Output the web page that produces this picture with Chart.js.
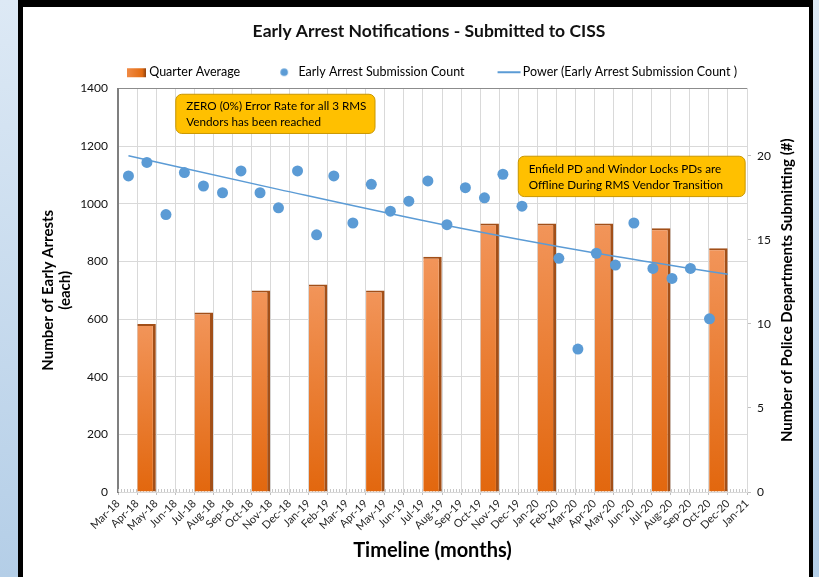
<!DOCTYPE html>
<html>
<head>
<meta charset="utf-8">
<script src="https://cdn.jsdelivr.net/npm/chart.js@4.4.1/dist/chart.umd.min.js"></script>
<style>
  html, body { margin: 0; padding: 0; }
  body { width: 819px; height: 577px; overflow: hidden; position: relative;
         background: linear-gradient(#DDE9F5, #B4CEE7); }
  #frame { position: absolute; left: 18px; top: 0; width: 786px; height: 600px; background: #fff;
           border-left: 5px solid #000; border-top: 7px solid #000; border-right: 4px solid #000; }
  #wrap { position: relative; width: 786px; height: 570px; }
</style>
</head>
<body>
<div id="frame"><div id="wrap"><canvas id="myChart"></canvas></div></div>
<script>
// x axis: tick every 31 days starting 15 Mar 2018 (Excel date axis)
const tickLabels = ['Mar-18','Apr-18','May-18','Jun-18','Jul-18','Aug-18','Sep-18','Oct-18','Nov-18','Dec-18',
  'Jan-19','Feb-19','Mar-19','Apr-19','May-19','Jun-19','Jul-19','Aug-19','Sep-19','Oct-19','Nov-19','Dec-19',
  'Jan-20','Feb-20','Mar-20','Apr-20','May-20','Jun-20','Jul-20','Aug-20','Sep-20','Oct-20','Dec-20','Jan-21'];
const axisStart = Date.UTC(2018, 2, 15);
const tickStepDays = 31;

// quarter averages (left axis), each bar fills the tick interval of its quarter label
const quarters = ['Apr-18','Jul-18','Oct-18','Jan-19','Apr-19','Jul-19','Oct-19','Jan-20','Apr-20','Jul-20','Oct-20'];
const quarterAverage = [583, 623, 699, 720, 699, 816, 932, 932, 932, 915, 846];

// monthly submission count (right axis), Feb-20 hidden behind the note
const months = ['2018-04','2018-05','2018-06','2018-07','2018-08','2018-09','2018-10','2018-11','2018-12',
  '2019-01','2019-02','2019-03','2019-04','2019-05','2019-06','2019-07','2019-08','2019-09','2019-10','2019-11','2019-12',
  '2020-01','2020-02','2020-03','2020-04','2020-05','2020-06','2020-07','2020-08','2020-09','2020-10','2020-11'];
const submissionCount = [18.8, 19.6, 16.5, 19.0, 18.2, 17.8, 19.1, 17.8, 16.9,
  19.1, 15.3, 18.8, 16.0, 18.3, 16.7, 17.3, 18.5, 15.9, 18.1, 17.5, 18.9,
  17.0, null, 13.9, 8.5, 14.2, 13.5, 16.0, 13.3, 12.7, 13.3, 10.3];

// power trendline
const trendMonths = ['2018-04','2018-12','2019-09','2020-05','2020-12'];
const trendValues = [20.0, 18.0, 15.85, 14.2, 12.95];

const leftTicks = [0, 200, 400, 600, 800, 1000, 1200, 1400];
const rightTicks = [0, 5, 10, 15, 20];

const FONT = 'Lato, "Open Sans", sans-serif';
const BLUE = '#5B9BD5';

function dayOf(ym) {
  const [y, m] = ym.split('-').map(Number);
  return (Date.UTC(y, m - 1, 1) - axisStart) / 864e5;
}

function marker(draw) {
  const c = document.createElement('canvas');
  c.width = 32; c.height = 12;
  draw(c.getContext('2d'));
  return c;
}
const barMark = marker(g => {
  const gr = g.createLinearGradient(11, 0, 30, 0);
  gr.addColorStop(0, '#F08A45'); gr.addColorStop(0.8, '#E36C12'); gr.addColorStop(1, '#8E4210');
  g.fillStyle = gr; g.fillRect(11, 2, 19, 9);
});
const dotMark = marker(g => {
  g.fillStyle = BLUE; g.beginPath(); g.arc(19, 6, 3.8, 0, Math.PI * 2); g.fill();
});
const lineMark = marker(g => {
  g.strokeStyle = BLUE; g.lineWidth = 2; g.beginPath(); g.moveTo(8, 6); g.lineTo(31, 6); g.stroke();
});

const notes = [
  { lines: ['ZERO (0%) Error Rate for all 3 RMS', 'Vendors has been reached'], x0: 94, x1: 418, y0: 1380, y1: 1244 },
  { lines: ['Enfield PD and Windor Locks PDs are', 'Offline During RMS Vendor Transition'], x0: 651, x1: 1020, y0: 1165, y1: 1025 }
];

const notesPlugin = {
  id: 'notes',
  beforeDatasetsDraw(chart) {
    // small minor ticks along the date axis
    const {ctx, scales, chartArea} = chart;
    ctx.save();
    ctx.strokeStyle = '#C8C8C8';
    ctx.lineWidth = 1;
    ctx.beginPath();
    for (let d = 0; d <= scales.x.max; d += 5) {
      const px = Math.round(scales.x.getPixelForValue(d)) + 0.5;
      ctx.moveTo(px, chartArea.bottom);
      ctx.lineTo(px, chartArea.bottom - 3);
    }
    ctx.stroke();
    ctx.restore();
  },
  afterDatasetsDraw(chart) {
    const {ctx, scales} = chart;
    ctx.save();
    notes.forEach(n => {
      const l = scales.x.getPixelForValue(n.x0), r = scales.x.getPixelForValue(n.x1);
      const t = scales.y.getPixelForValue(n.y0), b = scales.y.getPixelForValue(n.y1);
      ctx.beginPath();
      ctx.roundRect(l, t, r - l, b - t, 6);
      ctx.fillStyle = '#FFC000';
      ctx.fill();
      ctx.strokeStyle = '#C99700';
      ctx.lineWidth = 1;
      ctx.stroke();
      ctx.fillStyle = '#000';
      ctx.font = '11.7px ' + FONT;
      ctx.textBaseline = 'middle';
      ctx.textAlign = 'left';
      const mid = (t + b) / 2;
      ctx.fillText(n.lines[0], l + 10.5, mid - 7.5);
      ctx.fillText(n.lines[1], l + 10.5, mid + 8.5);
    });
    // right axis title, reading bottom to top
    const area = chart.chartArea;
    ctx.translate(764, (area.top + area.bottom) / 2);
    ctx.rotate(-Math.PI / 2);
    ctx.textAlign = 'center';
    ctx.textBaseline = 'middle';
    ctx.font = 'bold 15px ' + FONT;
    ctx.fillText('Number of Police Departments Submitting (#)', 0, 0);
    ctx.restore();
  }
};

const ctx = document.getElementById('myChart');

new Chart(ctx, {
  type: 'bar',
  data: {
    datasets: [
      {
        type: 'line',
        label: 'Early Arrest Submission Count',
        data: months.map((m, i) => ({x: dayOf(m), y: submissionCount[i]})),
        showLine: false,
        pointRadius: 5.5,
        pointBackgroundColor: BLUE,
        pointBorderWidth: 0,
        yAxisID: 'y2',
        order: 0
      },
      {
        type: 'line',
        label: 'Power (Early Arrest Submission Count )',
        data: trendMonths.map((m, i) => ({x: dayOf(m), y: trendValues[i]})),
        borderColor: BLUE,
        borderWidth: 1.5,
        pointRadius: 0,
        cubicInterpolationMode: 'monotone',
        yAxisID: 'y2',
        order: 1
      },
      {
        label: 'Quarter Average',
        data: quarters.map((q, i) => ({x: (tickLabels.indexOf(q) + 0.5) * tickStepDays, y: quarterAverage[i]})),
        backgroundColor: c => {
          const chart = c.chart;
          if (!chart.chartArea || !c.raw) return '#EC7A30';
          const top = chart.scales.y.getPixelForValue(c.raw.y);
          const g = chart.ctx.createLinearGradient(0, top, 0, chart.chartArea.bottom);
          g.addColorStop(0, '#F2955A');
          g.addColorStop(1, '#E2670E');
          return g;
        },
        borderColor: '#A24F18',
        borderWidth: {top: 2, right: 3, left: 0, bottom: 0},
        borderSkipped: false,
        barPercentage: 0.97,
        categoryPercentage: 1,
        yAxisID: 'y',
        order: 2
      }
    ]
  },
  options: {
    animation: false,
    responsive: true,
    maintainAspectRatio: false,
    layout: { padding: {left: 36, right: 10, top: 2, bottom: 0} },
    plugins: {
      title: {
        display: true,
        text: 'Early Arrest Notifications - Submitted to CISS',
        color: '#111',
        font: {family: FONT, size: 17.5, weight: 'bold', lineHeight: 1.2},
        padding: {top: 12, bottom: -6}
      },
      legend: {
        labels: {
          usePointStyle: true,
          pointStyleWidth: 22,
          padding: 30,
          color: '#111',
          font: {family: FONT, size: 12.5},
          generateLabels: chart => {
            const ds = chart.data.datasets;
            return [
              {text: ds[2].label, pointStyle: barMark, datasetIndex: 2, lineWidth: 0},
              {text: ds[0].label, pointStyle: dotMark, datasetIndex: 0, lineWidth: 0},
              {text: ds[1].label, pointStyle: lineMark, datasetIndex: 1, lineWidth: 0}
            ];
          }
        }
      },
      tooltip: {enabled: false}
    },
    scales: {
      x: {
        type: 'linear',
        offset: false,
        min: 0,
        max: tickStepDays * (tickLabels.length - 1),
        afterBuildTicks: s => { s.ticks = tickLabels.map((l, i) => ({value: i * tickStepDays})); },
        afterFit: s => { s.height = 85; },
        ticks: {
          autoSkip: false,
          maxRotation: 45,
          minRotation: 45,
          padding: 2,
          color: '#262626',
          font: {family: FONT, size: 11},
          callback: (v, i) => tickLabels[i]
        },
        grid: {offset: false, color: '#D9D9D9', tickLength: 3, tickColor: '#BFBFBF'},
        border: {color: '#D9D9D9'},
        title: {
          display: true,
          text: 'Timeline (months)',
          color: '#000',
          font: {family: FONT, size: 20, weight: 'bold', lineHeight: 1.2},
          padding: {top: 0, bottom: 14}
        }
      },
      y: {
        position: 'left',
        min: 0,
        max: 1400,
        afterBuildTicks: s => { s.ticks = leftTicks.map(v => ({value: v})); },
        afterFit: s => { s.width = 59; },
        ticks: {padding: 10, color: '#111', font: {family: FONT, size: 12}, callback: v => String(v)},
        grid: {
          drawTicks: false,
          color: c => (c.tick && c.tick.value === 1400 ? '#8C8C8C' : '#D9D9D9')
        },
        border: {color: '#7F7F7F', width: 2},
        title: {
          display: true,
          text: ['Number of Early Arrests', '(each)'],
          color: '#000',
          font: {family: FONT, size: 15, weight: 'bold', lineHeight: 1.15},
          padding: {top: -19.6, bottom: 0}
        }
      },
      y2: {
        position: 'right',
        min: 0,
        max: 24,
        afterBuildTicks: s => { s.ticks = rightTicks.map(v => ({value: v})); },
        afterFit: s => { s.width = 52; },
        ticks: {padding: 6, color: '#111', font: {family: FONT, size: 12}, callback: v => String(v)},
        grid: {drawOnChartArea: false, tickLength: 4, color: '#BFBFBF'},
        border: {color: '#D9D9D9'}
      }
    }
  },
  plugins: [notesPlugin]
});
</script>
</body>
</html>
